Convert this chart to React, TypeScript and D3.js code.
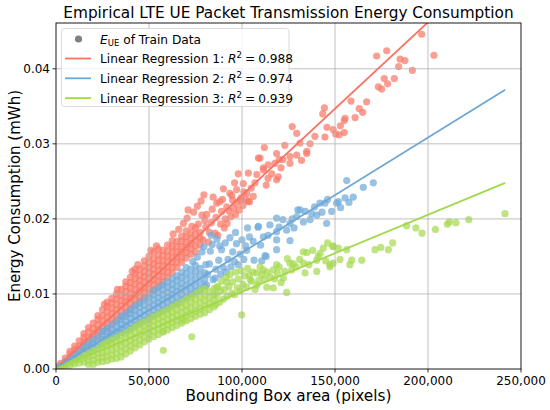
import React from "react";
import * as d3 from "d3";

// x: bounding box area in thousands of pixels, y: energy in µWh (0.001 mWh)
// dense parts are stored as columns: [x, y1, y2, ...]
const redCols: number[][] = [
  [1, 0.3], [2.5, 0.5, 0.75], [5, 1.0, 1.45], [7.5, 1.5, 2.0, 2.35],
  [10, 2.0, 2.6, 3.05], [12.5, 2.5, 3.1, 3.75], [15, 3.0, 3.6, 4.2, 4.7],
  [17.5, 3.5, 4.2, 4.9, 5.5], [20, 4.0, 4.7, 5.4, 6.1], [22.5, 4.5, 5.2, 5.9, 6.6, 7.1],
  [25, 5.0, 5.7, 6.4, 7.1, 7.9], [27.5, 5.5, 6.2, 6.9, 7.6, 8.3, 8.9],
  [30, 6.0, 6.7, 7.4, 8.1, 8.8, 9.4], [32.5, 6.5, 7.2, 7.9, 8.6, 9.3, 10.0],
  [35, 7.0, 7.7, 8.4, 9.1, 9.8, 10.6], [37.5, 7.5, 8.2, 8.9, 9.6, 10.3, 11.0, 11.6],
  [40, 8.0, 8.7, 9.4, 10.1, 10.8, 11.5, 12.2], [42.5, 8.5, 9.2, 9.9, 10.6, 11.3, 12.0, 12.7, 13.3],
  [45, 9.0, 9.7, 10.4, 11.1, 11.8, 12.5, 13.3], [47.5, 9.5, 10.2, 10.9, 11.6, 12.3, 13.0, 13.7, 14.4],
  [50, 10.0, 10.7, 11.4, 12.1, 12.8, 13.5, 14.2, 15.0], [52.5, 10.5, 11.2, 11.9, 12.6, 13.3, 14.0, 14.7, 15.6],
  [55, 11.0, 11.7, 12.4, 13.1, 13.8, 14.5, 15.2, 16.0], [57.5, 11.6, 12.3, 13.0, 13.7, 14.4, 15.1, 15.8],
  [60, 12.2, 12.9, 13.6, 14.3, 15.0, 15.7, 16.5], [62.5, 12.8, 13.5, 14.2, 14.9, 15.6, 16.3, 17.1],
  [65, 13.5, 14.2, 14.9, 15.6, 16.3, 17.0], [67.5, 14.2, 14.9, 15.6, 16.3, 17.0, 17.7],
  [70, 14.8, 15.5, 16.2, 16.9, 17.6, 18.4], [72.5, 15.3, 16.0, 16.7, 17.4, 18.1],
  [75, 15.6, 16.4, 17.2, 18.0, 18.8], [77.5, 16.5, 17.4, 18.2],
];
const redSparse: number[][] = [
  [86.4, 22.1], [91.8, 21.6], [100.7, 24.7], [103.4, 26.1], [108.8, 28.1], [111.5, 26.8],
  [114.1, 27.2], [118.6, 28.7], [125.8, 28.3], [119.5, 25.6], [106, 23], [103.4, 22.3],
  [97.1, 23.9], [129.4, 31.4], [134.8, 28.7], [131.2, 30.1], [96, 24.8], [88, 22.3],
  [104, 22.3], [108, 25.9], [111.5, 26.5], [117.7, 27.4], [118.6, 25.2], [125.8, 27.4],
  [129.4, 28.5], [134.8, 29], [109.7, 28.1], [102.5, 23.4], [93.5, 23.4], [136.6, 30],
  [139.2, 31], [143.4, 34], [144.3, 34.8], [144.6, 30.9], [145.7, 32.2], [149, 31.9],
  [150.4, 31.3], [152.3, 31.2], [152.9, 32.4], [155, 33.1], [155.4, 33.4], [155, 31.5],
  [158.6, 35.7], [160.8, 33.5], [163, 34.7], [164.9, 34.2], [167, 35.6], [172.4, 41.7],
  [173.3, 37.6], [175.1, 37.3], [176.5, 38.7], [177.8, 42.4], [178.3, 38], [181.9, 38.7],
  [184.2, 40.3], [185, 41.3], [187.6, 41.1], [191.6, 39.8], [196.6, 44.6], [203.2, 41.8],
  [122, 27.9], [127, 32.3], [113, 24.5], [116, 26], [121, 26.8], [99, 22.5], [107, 24.8],
  [112, 29.5], [123, 29.8], [132, 27.8], [98, 26], [95, 22.5], [114, 25.4], [120, 27.9],
  [26, 8.6], [33, 10.6], [41, 13.0], [44, 13.9], [51, 15.8], [54, 16.4], [63, 18.0], [71, 21.2],
  [66, 18.6], [68.5, 19.4], [70.5, 20.1], [73, 19.0], [74, 20.9], [76, 21.7], [78, 22.4],
  [79, 17.2], [80.5, 18.9], [81, 20.6], [82, 16.9], [83.5, 19.5], [84, 21.3], [85.5, 18.1],
  [86, 20.2], [87, 17.8], [88.5, 19.3], [89, 21.0], [89.5, 22.6], [90.5, 18.8], [91, 20.0],
  [92, 19.4], [93, 21.1], [94, 20.3], [94.5, 23.1], [95.5, 21.4], [96.5, 20.6], [97, 22.1],
  [98.5, 21.2], [99.5, 22.8], [100.5, 21.8], [101, 23.6], [102, 22.6], [105, 24.1],
  [79.5, 23.2], [84.5, 22.9], [90, 24.0], [76.5, 19.3], [78.5, 20.5], [80, 19.8], [82.5, 18.2],
];
const blueCols: number[][] = [
  [1, 0.15], [2.5, 0.4], [5, 0.7, 0.95], [7.5, 1.05, 1.4], [10, 1.4, 1.85],
  [12.5, 1.75, 2.3], [15, 2.1, 2.6, 2.95], [17.5, 2.4, 3.0, 3.4], [20, 2.75, 3.35, 3.9],
  [22.5, 3.1, 3.7, 4.3], [25, 3.4, 4.0, 4.6, 5.0], [27.5, 3.75, 4.4, 5.0, 5.4],
  [30, 4.1, 4.7, 5.3, 5.9], [32.5, 4.4, 5.0, 5.7, 6.3], [35, 4.8, 5.4, 6.0, 6.6, 7.0],
  [37.5, 5.1, 5.8, 6.4, 7.0, 7.4], [40, 5.4, 6.1, 6.8, 7.4, 7.9], [42.5, 5.8, 6.5, 7.2, 7.8, 8.4],
  [45, 6.1, 6.8, 7.5, 8.2, 8.8], [47.5, 6.4, 7.1, 7.8, 8.5, 9.2], [50, 6.8, 7.5, 8.2, 8.9, 9.6],
  [52.5, 7.1, 7.8, 8.5, 9.2, 9.9, 10.4], [55, 7.4, 8.1, 8.8, 9.5, 10.2, 10.8],
  [57.5, 7.8, 8.5, 9.2, 9.9, 10.6, 11.2], [60, 8.1, 8.8, 9.5, 10.2, 10.9, 11.6],
  [62.5, 8.5, 9.2, 9.9, 10.6, 11.3, 12.0], [65, 8.8, 9.6, 10.3, 11.0, 11.8, 12.4],
  [67.5, 9.2, 9.9, 10.7, 11.4, 12.2, 12.9], [70, 9.5, 10.3, 11.1, 11.9, 12.7, 13.5],
  [72.5, 9.9, 10.7, 11.5, 12.4, 13.3], [75, 10.3, 11.1, 12.0, 12.9, 13.8],
  [77.5, 10.6, 11.5, 12.5, 13.4], [80, 11.0, 11.9, 12.8],
];
const blueSparse: number[][] = [
  [156.3, 25.1], [165.2, 24.2], [170.6, 24.8], [159.8, 22.9], [155.4, 22.8], [157.5, 22.2],
  [151.8, 22.3], [148.2, 21], [145.5, 19.4], [141.9, 22.1], [140.2, 20.5], [131.2, 21.2],
  [136.6, 19.9], [125.8, 19.4], [115, 19.2], [108.8, 19], [118.6, 18.3], [124, 18.5],
  [125.8, 17.1], [118.6, 17.2], [111.5, 17.6], [106, 17], [106.5, 14.5], [112.4, 15.1],
  [110.6, 14.4], [118.6, 20.1], [130, 21.2], [137.5, 20.7], [129.4, 20.3], [144.6, 22.1],
  [150.9, 22.1], [122, 19.9], [128, 18.8], [133, 19.6], [104, 17.6], [108.6, 18.9],
  [113, 15], [118.6, 15.9], [102, 16.4], [103, 18.8], [110, 16.5], [114, 17.8], [120, 18.9],
  [127, 20], [134, 21], [139, 21.6], [143, 20.9], [146, 22.6], [153, 21.5],
  [73.5, 14.3], [76, 14.9], [78.5, 15.6], [79.5, 16.3], [81, 11.2], [81.5, 12.6], [82.5, 14.0],
  [83, 15.7], [83.5, 17.8], [84, 16.6], [85.5, 12.1], [86, 13.3], [86.5, 17.3], [87.5, 14.5],
  [88.5, 12.6], [89, 15.9], [90, 13.5], [91, 16.8], [91.5, 12.9], [92.5, 14.6], [93.5, 17.5],
  [94, 13.6], [95, 15.6], [96, 14.3], [97, 16.7], [98, 13.9], [99, 15.3], [100, 17.2],
  [101, 14.6], [102.5, 15.8], [80.5, 13.9], [84.5, 11.9], [88, 16.4], [96.5, 18.2],
];
const greenCols: number[][] = [
  [1, 0.08], [2.5, 0.2, 0.3], [5, 0.35, 0.55], [7.5, 0.5, 0.8], [10, 0.65, 1.05],
  [12.5, 0.8, 1.3], [15, 0.9, 1.4, 1.8], [17.5, 0.6, 1.1, 1.7, 2.1], [20, 0.6, 1.2, 1.8, 2.4],
  [22.5, 0.9, 1.5, 2.1, 2.7], [25, 1.0, 1.6, 2.2, 2.8, 3.3], [27.5, 1.1, 1.7, 2.4, 3.1, 3.6],
  [30, 1.3, 1.9, 2.6, 3.3, 3.9], [32.5, 1.4, 2.1, 2.8, 3.5, 4.2], [35, 1.6, 2.3, 3.0, 3.7, 4.5],
  [37.5, 2.0, 2.7, 3.4, 4.1, 4.8], [40, 2.4, 3.1, 3.8, 4.5, 5.2], [42.5, 2.8, 3.5, 4.2, 4.9, 5.6],
  [45, 3.2, 3.9, 4.6, 5.3, 6.0], [47.5, 3.6, 4.3, 5.0, 5.7, 6.3], [50, 4.0, 4.7, 5.4, 6.1, 6.6],
  [52.5, 4.3, 5.0, 5.7, 6.4, 7.0], [55, 4.6, 5.3, 6.0, 6.7, 7.3], [57.5, 4.9, 5.6, 6.3, 7.0, 7.6],
  [60, 5.2, 5.9, 6.6, 7.3, 7.9], [62.5, 5.5, 6.2, 6.9, 7.6, 8.3], [65, 5.8, 6.5, 7.2, 7.9, 8.6],
  [67.5, 6.1, 6.8, 7.5, 8.2, 8.9], [70, 6.4, 7.1, 7.8, 8.5, 9.3], [72.5, 6.7, 7.4, 8.1, 8.9, 9.6],
  [75, 7.0, 7.7, 8.5, 9.3, 10.0], [77.5, 7.3, 8.0, 8.8, 9.6, 10.4], [80, 7.5, 8.3, 9.1, 9.9, 10.7],
  [82.5, 7.9, 8.7, 9.5, 10.3], [85, 8.3, 9.1, 9.9, 10.7],
];
const greenSparse: number[][] = [
  [57.7, 2.5], [57.7, 5], [73, 4.3], [68.4, 6.5], [99.8, 7.2],
  [104, 12.5], [109.7, 13.6], [118.6, 13.9], [125.8, 14.1], [133, 15.6], [140.2, 14.5],
  [149, 16.3], [156.3, 15.9], [147.3, 13.9], [124, 10.2], [113.3, 10.9], [116.8, 10.8],
  [91.8, 11.6], [86.4, 10.8], [134.8, 15.5], [143.7, 16.1], [148.8, 16.4], [151.8, 16.1],
  [142, 15.4], [141, 15], [152.7, 14.6], [159, 14.5], [164.4, 14.5], [158, 13.9],
  [171.5, 15.9], [174.6, 16.2], [178.7, 15.9], [181, 16.8], [188.5, 19.1], [193.5, 18.8],
  [196.8, 18.1], [204, 18.6], [210.4, 19.3], [211.5, 19.6], [215, 19.5], [221.9, 19.9],
  [241.4, 20.7], [147.3, 13.6], [149, 14.1], [133, 14.1], [140.2, 13], [126.7, 13.2],
  [133.9, 12.8], [127.6, 14], [124.4, 14.7], [116.8, 13.2], [111.5, 13.2], [107.9, 12.8],
  [115, 12.3], [122.2, 12.1], [105, 11.7], [108, 11.2], [112, 12], [119, 12.8], [121, 11.5],
  [129, 13.6], [131, 14.6], [136, 13.9], [138, 15.8], [145, 14.4], [146, 16.8],
  [86, 8.6], [86.5, 9.8], [87, 11.0], [88, 8.9], [88.5, 10.4], [89, 11.7], [90, 9.3],
  [90.5, 10.6], [91.5, 12.2], [92, 9.7], [93, 11.0], [93.5, 12.6], [94.5, 10.1], [95, 11.6],
  [96, 9.9], [96.5, 12.9], [97.5, 10.8], [98, 12.0], [99, 10.4], [99.5, 13.1], [100.5, 11.3],
  [101.5, 12.4], [102.5, 10.9], [103, 13.4], [104.5, 11.9], [106, 12.9], [107, 10.6],
  [109, 11.8], [110.5, 12.6], [113.5, 12.9], [117.5, 12.0], [120, 13.6], [123, 13.0],
];

const regNames = ["Linear Regression 1", "Linear Regression 2", "Linear Regression 3"];
const regR2 = ["0.988", "0.974", "0.939"];
const regSlope = [0.2305, 0.1535, 0.1025];
const regIntercept = [0.1, 0.15, 0.05];
const regRange = [0, 241.5];
const pointColors = ["#FA7868", "#70AAD8", "#A6DA50"];
const lineColors = ["#F97262", "#6EA7D5", "#A2D94A"];

const xTicks = [0, 50, 100, 150, 200, 250];
const yTicks = [0, 10, 20, 30, 40];

const W = 550;
const H = 410;
const m = { left: 56, right: 521, top: 23, bottom: 369 };
const font = "DejaVu Sans, sans-serif";

const colPoints = (cols: number[][]) =>
  cols.flatMap((c) => c.slice(1).map((y) => [c[0], y]));

export default function App() {
  const x = d3.scaleLinear().domain([0, 250]).range([m.left, m.right]);
  const y = d3.scaleLinear().domain([0, 46.1]).range([m.bottom, m.top]);
  const series = [
    [...colPoints(redCols), ...redSparse],
    [...colPoints(blueCols), ...blueSparse],
    [...colPoints(greenCols), ...greenSparse],
  ];

  return (
    <svg
      width={W}
      height={H}
      style={{ position: "absolute", left: 0, top: 0, background: "#fff" }}
      fontFamily={font}
    >
      <defs>
        <clipPath id="plot">
          <rect x={m.left} y={m.top} width={m.right - m.left} height={m.bottom - m.top} />
        </clipPath>
      </defs>
      <g clipPath="url(#plot)">
        {series.map((pts, si) => (
          <g key={si} fill={pointColors[si]} fillOpacity={0.72}>
            {pts.map((p, i) => (
              <circle key={i} cx={x(p[0])} cy={y(p[1])} r={3.6} />
            ))}
          </g>
        ))}
      </g>
      {/* grid */}
      <g stroke="#b0b0b0" strokeWidth={0.8}>
        {xTicks.slice(1, -1).map((t) => (
          <line key={t} x1={x(t)} x2={x(t)} y1={m.top} y2={m.bottom} />
        ))}
        {yTicks.slice(1).map((t) => (
          <line key={t} x1={m.left} x2={m.right} y1={y(t)} y2={y(t)} />
        ))}
      </g>
      <g clipPath="url(#plot)">
        {regSlope.map((s, i) => (
          <line
            key={i}
            x1={x(regRange[0])}
            y1={y(regIntercept[i] + s * regRange[0])}
            x2={x(regRange[1])}
            y2={y(regIntercept[i] + s * regRange[1])}
            stroke={lineColors[i]}
            strokeWidth={1.8}
          />
        ))}
      </g>
      <rect
        x={m.left}
        y={m.top}
        width={m.right - m.left}
        height={m.bottom - m.top}
        fill="none"
        stroke="#000"
        strokeWidth={0.9}
      />
      {/* ticks */}
      <g fontSize={12} fill="#000">
        {xTicks.map((t) => (
          <g key={t}>
            <line x1={x(t)} x2={x(t)} y1={m.bottom} y2={m.bottom + 3.5} stroke="#000" strokeWidth={0.8} />
            <text x={x(t)} y={m.bottom + 16} textAnchor="middle">
              {d3.format(",")(t * 1000)}
            </text>
          </g>
        ))}
        {yTicks.map((t) => (
          <g key={t}>
            <line x1={m.left - 3.5} x2={m.left} y1={y(t)} y2={y(t)} stroke="#000" strokeWidth={0.8} />
            <text x={m.left - 6} y={y(t) + 4.3} textAnchor="end">
              {(t / 1000).toFixed(2)}
            </text>
          </g>
        ))}
      </g>
      <text x={(m.left + m.right) / 2} y={17.5} textAnchor="middle" fontSize={15.3}>
        Empirical LTE UE Packet Transmission Energy Consumption
      </text>
      <text x={(m.left + m.right) / 2} y={401} textAnchor="middle" fontSize={15.3}>
        Bounding Box area (pixels)
      </text>
      <text
        transform={`translate(20,${(m.top + m.bottom) / 2}) rotate(-90)`}
        textAnchor="middle"
        fontSize={15}
      >
        Energy Consumption (mWh)
      </text>
      {/* legend */}
      <g>
        <rect x={61.5} y={28.5} width={227.5} height={78} rx={3} fill="#fff" fillOpacity={0.8} stroke="#d0d0d0" strokeWidth={0.8} />
        <circle cx={78.5} cy={39} r={3.6} fill="#808080" />
        <text x={100} y={43.5} fontSize={12.2}>
          <tspan fontStyle="italic">E</tspan>
          <tspan fontSize={8.5} dy={2.5}>UE</tspan>
          <tspan dy={-2.5}> of Train Data</tspan>
        </text>
        {regNames.map((n, i) => {
          const ly = 58.5 + i * 19.8;
          return (
            <g key={i}>
              <line x1={65} x2={91} y1={ly} y2={ly} stroke={lineColors[i]} strokeWidth={1.8} />
              <text x={100} y={ly + 4.5} fontSize={12.2}>
                {n + ": "}
                <tspan fontStyle="italic">R</tspan>
                <tspan fontSize={8.5} dy={-5}>2</tspan>
                <tspan dy={5} dx={3}>=</tspan>
                <tspan dx={3}>{regR2[i]}</tspan>
              </text>
            </g>
          );
        })}
      </g>
    </svg>
  );
}
